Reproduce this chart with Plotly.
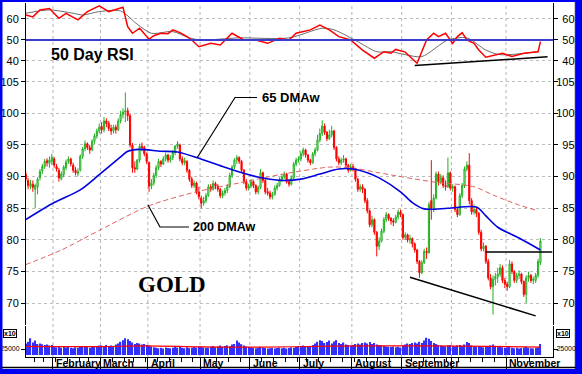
import plotly.graph_objects as go
import pandas as pd

W, H = 582, 374

# ---------------- data ----------------
HOLIDAYS = ["2008-01-21", "2008-02-18", "2008-03-21", "2008-05-26", "2008-07-04", "2008-09-01"]
dates = [d for d in pd.bdate_range("2008-01-15", "2008-11-21") if d.strftime("%Y-%m-%d") not in HOLIDAYS]

opens = [
    90.4, 89.4, 88.4, 88.8, 88.0, 88.4, 89.8, 90.9, 91.6, 92.5, 92.1, 92.4,
    92.8, 91.6, 91.0, 89.7, 90.3, 91.4, 92.4, 92.8, 91.8, 91.0, 90.5, 91.0, 93.2, 94.4, 95.2, 94.6, 94.2, 95.6, 96.4, 97.2,
    97.9, 97.4, 98.8, 98.4, 97.6, 97.2, 97.8, 97.4, 98.8, 99.8, 100.2, 100.4, 99.6, 95.0, 91.4, 91.2, 92.6, 94.8, 94.6, 93.6,
    92.2, 88.5, 89.0, 90.2, 91.4, 92.4, 92.0, 92.8, 93.4, 92.6, 93.0, 93.8, 94.8, 95.0, 92.8, 92.2, 92.4, 91.0, 89.6, 88.6, 89.0, 87.6,
    86.6, 85.8, 86.2, 87.0, 88.4, 88.0, 88.9, 88.5, 88.0, 87.0, 87.4, 87.8, 88.4, 90.2, 91.5, 92.6, 93.0, 92.4, 91.0, 89.2, 88.2,
    88.5, 89.2, 88.6, 87.6, 88.3, 90.6, 89.4, 87.6, 87.4, 86.8, 87.2, 88.2, 88.6, 89.6, 90.0, 90.4, 89.2, 88.8, 89.8, 92.0, 92.6,
    92.8, 93.6, 94.2, 93.4, 92.6, 92.2, 93.6, 94.2, 95.8, 96.8, 98.0, 97.0, 96.0, 96.6, 97.2, 94.6, 92.8, 92.2, 92.6, 92.8, 91.8, 91.0,
    91.6, 91.2, 89.6, 88.0, 88.4, 88.0, 86.2, 84.6, 82.4, 83.2, 81.2, 79.0, 79.8, 81.4, 83.2, 84.0, 83.4, 83.0, 82.8, 83.6, 84.4,
    84.0, 80.4, 80.8, 80.0, 80.2, 79.4, 78.4, 76.6, 74.8, 76.4, 78.2, 78.0, 86.2, 85.0, 86.6, 90.4, 89.2, 89.8, 88.6, 88.4, 90.6,
    88.2, 88.4, 84.8, 84.0, 87.0, 88.6, 91.2, 91.8, 86.2, 84.4, 84.8, 84.2, 81.2, 78.6, 79.0, 76.6, 74.0, 72.6, 73.8, 74.2, 74.6, 75.6, 73.6,
    73.0, 72.6, 76.2, 75.0, 73.6, 74.4, 74.6, 73.4, 71.4, 74.0, 74.4, 73.6, 73.6, 74.4, 76.4,
]
highs = [
    90.9, 89.8, 89.5, 89.4, 88.9, 89.9, 91.2, 92.0, 92.8, 92.9, 93.2, 93.6,
    93.1, 92.0, 91.4, 90.8, 91.8, 92.7, 93.2, 93.0, 92.2, 91.5, 91.3, 93.5, 94.7, 95.7, 95.4, 95.0, 95.9, 96.8, 97.6, 98.4,
    98.6, 99.4, 99.2, 98.8, 98.2, 98.2, 98.2, 99.2, 100.4, 100.8, 103.3, 100.9, 99.9, 95.3, 92.4, 92.8, 95.2, 95.4, 94.9, 93.8,
    92.4, 89.6, 90.6, 91.8, 92.8, 92.6, 93.2, 93.8, 93.6, 93.4, 94.2, 95.0, 95.6, 95.2, 93.2, 93.0, 92.6, 91.2, 90.0, 89.4, 89.2, 88.4,
    87.0, 86.8, 87.4, 88.8, 88.8, 89.4, 89.2, 88.8, 88.2, 87.8, 88.2, 88.8, 90.6, 91.8, 92.9, 93.4, 93.2, 92.6, 91.2, 89.6, 88.9,
    89.6, 89.4, 88.8, 88.6, 91.2, 90.8, 89.6, 88.2, 87.8, 87.6, 88.6, 89.0, 89.9, 90.4, 90.8, 90.6, 89.6, 90.2, 92.3, 93.0, 93.2,
    94.0, 94.6, 94.4, 93.6, 92.8, 93.9, 94.6, 96.6, 97.6, 98.9, 98.4, 97.2, 97.4, 98.0, 97.4, 94.8, 93.2, 93.0, 93.4, 93.0, 92.0, 92.0,
    92.0, 91.4, 89.8, 88.8, 88.8, 88.2, 86.6, 84.8, 83.8, 83.4, 81.4, 80.4, 81.8, 83.6, 84.4, 84.2, 83.6, 83.4, 84.0, 84.8, 84.8,
    84.2, 81.2, 81.0, 80.8, 80.4, 79.6, 78.6, 76.8, 76.8, 78.6, 78.8, 86.0, 92.6, 87.2, 90.8, 90.8, 90.4, 90.2, 89.4, 93.0, 90.8,
    88.8, 88.6, 85.2, 87.4, 89.0, 91.6, 92.4, 93.7, 86.6, 85.6, 85.2, 84.4, 81.6, 79.6, 79.2, 77.0, 74.6, 74.4, 74.8, 75.6, 76.2, 76.0, 74.0,
    73.4, 76.8, 76.6, 75.2, 74.8, 75.2, 74.8, 73.6, 74.4, 75.0, 74.6, 74.2, 74.8, 77.0, 80.3,
]
lows = [
    89.2, 88.0, 88.0, 87.6, 85.0, 87.2, 89.4, 90.4, 91.2, 91.6, 91.4, 91.8,
    91.4, 90.8, 89.2, 89.4, 89.9, 91.0, 92.0, 91.6, 90.6, 90.2, 90.0, 90.8, 92.8, 94.0, 94.2, 93.6, 94.0, 95.2, 96.0, 96.8,
    96.8, 97.0, 97.8, 97.2, 96.6, 96.8, 96.8, 97.2, 98.4, 99.2, 98.6, 98.8, 94.6, 90.6, 90.6, 91.0, 92.2, 94.0, 93.2, 92.0,
    87.6, 88.0, 88.6, 89.8, 91.0, 91.5, 91.8, 92.4, 92.2, 92.2, 92.6, 93.4, 94.4, 92.4, 91.8, 91.8, 90.6, 89.2, 88.2, 88.2, 87.2, 86.4,
    85.0, 85.4, 85.8, 86.8, 87.6, 87.8, 88.0, 87.6, 86.6, 86.6, 87.0, 87.4, 88.2, 89.8, 91.2, 92.0, 92.0, 90.6, 88.8, 87.8, 87.8,
    88.2, 88.2, 87.2, 87.2, 88.0, 89.0, 87.2, 87.0, 86.4, 86.4, 87.0, 87.8, 88.4, 89.2, 89.6, 88.9, 88.4, 88.6, 89.6, 91.6, 92.2,
    92.4, 93.2, 93.0, 92.2, 91.8, 92.0, 93.2, 94.0, 95.4, 96.4, 96.6, 95.6, 95.8, 96.2, 94.2, 92.4, 91.8, 91.8, 92.2, 91.4, 90.6, 90.8,
    90.8, 89.2, 87.6, 87.6, 87.4, 85.8, 84.2, 82.0, 82.0, 80.8, 77.4, 78.4, 79.6, 81.0, 82.8, 83.0, 82.4, 82.2, 82.6, 83.2, 83.6,
    80.0, 80.0, 79.6, 79.4, 78.8, 78.0, 76.2, 74.0, 74.6, 76.2, 77.0, 77.8, 83.2, 84.4, 86.4, 88.6, 88.8, 88.2, 87.8, 88.2, 87.8,
    87.6, 84.4, 83.6, 83.8, 86.6, 88.2, 90.8, 85.6, 84.0, 84.0, 83.6, 80.8, 78.2, 78.2, 76.2, 73.6, 72.2, 68.2, 72.8, 73.2, 74.2, 73.2, 72.4,
    72.0, 72.4, 74.6, 73.2, 73.2, 73.8, 73.0, 71.0, 70.0, 73.4, 73.2, 73.0, 73.2, 74.0, 76.0,
]
closes = [
    89.6, 88.6, 88.9, 88.3, 88.6, 89.6, 90.8, 91.6, 92.4, 92.2, 92.6, 93.0,
    91.8, 91.2, 89.8, 90.4, 91.5, 92.3, 92.8, 92.0, 91.0, 90.6, 90.8, 93.2, 94.4, 95.2, 94.6, 94.2, 95.6, 96.4, 97.2, 97.8,
    97.4, 98.8, 98.4, 97.6, 97.2, 97.8, 97.4, 98.8, 99.8, 100.2, 100.4, 99.6, 95.0, 91.4, 91.2, 92.6, 94.8, 94.6, 93.6, 92.4,
    88.5, 89.0, 90.2, 91.4, 92.4, 92.0, 92.8, 93.4, 92.6, 93.0, 93.8, 94.8, 95.2, 92.8, 92.2, 92.5, 91.0, 89.6, 88.6, 89.0, 87.5, 86.8,
    85.8, 86.2, 87.0, 88.4, 88.0, 88.9, 88.5, 88.0, 87.0, 87.4, 87.8, 88.4, 90.2, 91.5, 92.6, 93.0, 92.4, 91.0, 89.2, 88.2, 88.5,
    89.2, 88.6, 87.6, 88.3, 90.6, 89.4, 87.6, 87.4, 86.8, 87.2, 88.2, 88.6, 89.6, 90.0, 90.4, 89.2, 88.8, 89.8, 92.0, 92.6, 92.8,
    93.6, 94.2, 93.4, 92.6, 92.2, 93.6, 94.2, 95.8, 96.8, 98.0, 97.0, 96.0, 96.6, 97.2, 94.6, 92.8, 92.2, 92.6, 92.8, 91.8, 91.0, 91.6,
    91.2, 89.6, 88.0, 88.4, 88.0, 86.2, 84.6, 82.4, 83.2, 81.2, 79.0, 79.8, 81.4, 83.2, 84.0, 83.4, 83.0, 82.8, 83.6, 84.4, 84.0,
    80.4, 80.8, 80.0, 80.2, 79.4, 78.4, 76.6, 74.8, 76.4, 78.2, 78.0, 85.6, 85.0, 86.6, 90.4, 89.2, 89.8, 88.6, 88.4, 90.6, 88.2,
    88.4, 84.8, 84.0, 87.0, 88.6, 91.2, 91.8, 86.2, 84.4, 84.8, 84.2, 81.2, 78.6, 79.0, 76.6, 74.0, 72.6, 73.8, 74.2, 74.6, 75.6, 73.6, 73.0,
    72.6, 76.2, 75.0, 73.6, 74.4, 74.6, 73.4, 71.4, 74.0, 74.4, 73.6, 73.8, 74.4, 76.6, 79.8,
]
volumes = [  # thousands
    48, 55, 70, 52, 60, 46, 48, 45, 42, 44, 40, 42,
    38, 32, 35, 30, 33, 31, 34, 30, 28, 32, 30, 36, 34, 38, 33, 30, 35, 36, 38, 40,
    40, 38, 42, 36, 40, 38, 44, 48, 55, 62, 70, 66, 58, 52, 46, 50, 48, 44, 46, 42,
    40, 36, 32, 30, 28, 30, 27, 31, 29, 28, 30, 33, 31, 34, 30, 28, 32, 29, 30, 33, 31, 35,
    36, 32, 30, 31, 34, 38, 33, 36, 40, 35, 38, 41, 37, 44, 46, 60, 52, 45, 40, 36, 33,
    32, 30, 28, 30, 34, 31, 29, 27, 28, 30, 27, 29, 31, 28, 30, 27, 29, 32, 30, 34, 36,
    38, 40, 36, 34, 38, 42, 48, 55, 62, 58, 50, 54, 60, 48, 56, 62, 50, 46, 52, 44, 42, 40,
    42, 46, 48, 44, 50, 52, 48, 54, 46, 50, 44, 42, 40, 38, 36, 34, 33, 35, 32, 34, 31,
    40, 44, 48, 46, 50, 52, 48, 55, 50, 60, 72, 68, 58, 50, 46, 42, 40, 38, 36, 40, 42,
    38, 36, 40, 42, 38, 44, 54, 50, 40, 36, 34, 38, 35, 32, 34, 36, 40, 44, 38, 34, 36, 32, 30,
    32, 36, 30, 28, 30, 27, 29, 31, 34, 30, 28, 27, 29, 32, 46,
]
assert len(dates) == len(opens) == len(highs) == len(lows) == len(closes) == len(volumes)

# moving averages / indicators (trading-day index, value)
ma65_day = [0, 12, 23, 31, 40, 43, 48, 57, 64, 73, 83, 93, 101, 108, 116, 124, 132, 138, 144, 149, 158, 163, 168, 178, 190, 194, 199, 208, 217]
ma65_val = [83.2, 85.9, 87.9, 90.3, 93.1, 94.0, 94.3, 94.0, 93.9, 92.9, 91.6, 90.4, 89.7, 89.4, 89.6, 90.4, 91.2, 91.2, 90.6, 89.8, 87.6, 85.9, 84.9, 85.0, 85.2, 83.8, 82.0, 80.3, 78.4]
ma200_day = [0, 15, 31, 52, 72, 90, 107, 128, 137, 149, 171, 189, 197, 208, 216]
ma200_val = [76.1, 78.4, 81.5, 85.4, 87.6, 89.0, 90.3, 91.5, 91.4, 90.6, 89.2, 88.4, 87.1, 85.5, 84.6]

rsi_day = [0, 3, 6, 10, 14, 17, 22, 26, 31, 35, 41, 43, 45, 48, 52, 54, 57, 60, 62, 65, 68, 70, 73, 78, 82, 87, 92, 97, 102, 107,
           111, 114, 120, 124, 128, 132, 137, 142, 147, 151, 154, 156, 160, 163, 165, 169, 172, 174, 177, 180, 182, 184, 186, 189,
           191, 194, 197, 201, 205, 210, 214, 216, 217]
rsi_val = [61.9, 61.0, 64.3, 65.0, 60.3, 62.7, 59.6, 63.5, 66.2, 63.5, 65.6, 56.3, 53.2, 55.6, 50.3, 52.0, 53.2, 53.0, 54.8, 53.5,
           51.6, 50.0, 46.8, 48.4, 47.6, 53.2, 50.0, 50.0, 48.4, 50.8, 50.0, 53.2, 54.8, 57.1, 54.8, 51.6, 50.0, 45.2, 41.3, 44.4,
           43.7, 45.5, 44.2, 41.3, 38.9, 50.0, 53.2, 51.6, 53.2, 48.4, 51.6, 53.5, 50.0, 48.4, 45.2, 41.8, 42.5, 43.7, 42.1, 43.7,
           44.2, 44.4, 49.2]
rsi_ma_day = [0, 10, 20, 24, 31, 40, 47, 53, 62, 69, 74, 90, 111, 125, 130, 140, 148, 154, 160, 167, 178, 186, 194, 200, 216]
rsi_ma_val = [62.7, 64.3, 62.7, 61.9, 63.5, 63.8, 57.5, 53.2, 54.0, 51.0, 50.0, 51.0, 51.0, 55.6, 54.8, 49.2, 44.4, 44.4, 43.0,
              42.1, 50.0, 51.0, 45.2, 43.0, 44.4]
vol_ma_day = [0, 30, 50, 75, 100, 130, 150, 170, 195, 217]
vol_ma_val = [36, 35, 38, 34, 33, 37, 38, 38, 36, 33]

# hand-drawn trend lines (trading-day index, value)
price_trend_day, price_trend_val = [162, 215], [74.1, 68.0]
resist_day, resist_val = [194, 222], [78.1, 78.1]
rsi_trend_day, rsi_trend_val = [164, 220], [37.8, 42.0]

PRICE_TICKS = [70, 75, 80, 85, 90, 95, 100, 105]
RSI_TICKS = [40, 50, 60]
MONTH_NAMES = {2: "February", 3: "March", 4: "April", 5: "May", 6: "June", 7: "July",
               8: "August", 9: "September", 11: "November"}

# ---------------- helpers ----------------
def fx(p):
    return p / W


def fy(p):
    return 1 - p / H


def pad(v):
    # right-aligned labels on the right-hand axis (figure space keeps digit width)
    s = str(v)
    return "\u2007" * (3 - len(s)) + s


idx = list(range(len(dates)))
month_starts = [i for i in idx[1:] if dates[i].month != dates[i - 1].month]
week_starts = [i for i in idx[1:] if dates[i].weekday() < dates[i - 1].weekday()]

FONT = "Liberation Sans, Arial, sans-serif"
tickfont = dict(family=FONT, size=11, color="#000")

fig = go.Figure()
fig.add_trace(go.Candlestick(
    x=idx, open=opens, high=highs, low=lows, close=closes, xaxis="x", yaxis="y",
    increasing=dict(line=dict(color="#20b020", width=1), fillcolor="#c8efc8"),
    decreasing=dict(line=dict(color="#ff0000", width=1), fillcolor="#ff0000"),
    whiskerwidth=0, showlegend=False, hoverinfo="skip"))
fig.add_trace(go.Scatter(x=ma200_day, y=ma200_val, mode="lines", yaxis="y",
                         line=dict(color="#e06060", width=1, dash="5px,3px", shape="spline", smoothing=0.8),
                         hoverinfo="skip"))
fig.add_trace(go.Scatter(x=ma65_day, y=ma65_val, mode="lines", yaxis="y",
                         line=dict(color="#0000e0", width=1.6, shape="spline", smoothing=0.8),
                         hoverinfo="skip"))
fig.add_trace(go.Scatter(x=rsi_ma_day, y=rsi_ma_val, mode="lines", yaxis="y2",
                         line=dict(color="#5a5a5a", width=0.9, shape="spline", smoothing=0.8), hoverinfo="skip"))
fig.add_trace(go.Scatter(x=rsi_day, y=rsi_val, mode="lines", yaxis="y2",
                         line=dict(color="#ff0000", width=1.5), hoverinfo="skip"))
fig.add_trace(go.Bar(x=idx, y=volumes, yaxis="y3", marker=dict(color="#3030ff", line=dict(width=0)),
                     width=0.55, hoverinfo="skip"))
fig.add_trace(go.Scatter(x=vol_ma_day, y=vol_ma_val, mode="lines", yaxis="y3",
                         line=dict(color="#ff0000", width=1.2, shape="spline"), hoverinfo="skip"))
for ax in ["y4", "y5", "y6"]:
    fig.add_trace(go.Scatter(x=[None], y=[None], yaxis=ax, hoverinfo="skip", showlegend=False))

common_y = dict(anchor="x", zeroline=False, showline=True, linecolor="#000", linewidth=1,
                ticks="outside", ticklen=4, tickcolor="#000", tickfont=tickfont, fixedrange=True)
grid = dict(showgrid=True, gridcolor="#bdbdbd", griddash="dot", gridwidth=1)

price_dom = [fy(325), fy(70)]
rsi_dom = [fy(70), fy(3)]
vol_dom = [fy(357), fy(326)]
price_rng = [66.56, 106.84]
rsi_rng = [35.7, 67.6]
vol_rng = [-8.3, 121]
voltick = dict(tickvals=[25], ticktext=["25000"], tickfont=dict(family=FONT, size=7, color="#000"))

shapes = []
for m in month_starts:
    shapes.append(dict(type="line", xref="x", yref="paper", x0=m - 0.5, x1=m - 0.5, y0=fy(357), y1=fy(3),
                       line=dict(color="#b4b4b4", width=1, dash="dot"), layer="below"))
# RSI 50 line
shapes.append(dict(type="line", xref="paper", yref="y2", x0=fx(26), x1=fx(553), y0=50, y1=50,
                   line=dict(color="#3a3acc", width=2)))
# trend lines
shapes.append(dict(type="line", xref="x", yref="y", x0=price_trend_day[0], x1=price_trend_day[1],
                   y0=price_trend_val[0], y1=price_trend_val[1], line=dict(color="#000", width=1.5)))
shapes.append(dict(type="line", xref="x", yref="y", x0=resist_day[0], x1=resist_day[1],
                   y0=resist_val[0], y1=resist_val[1], line=dict(color="#000", width=1.5)))
shapes.append(dict(type="line", xref="x", yref="y2", x0=rsi_trend_day[0], x1=rsi_trend_day[1],
                   y0=rsi_trend_val[0], y1=rsi_trend_val[1], line=dict(color="#000", width=1.5)))


def ppath(pts):
    return "M " + " L ".join(f"{fx(a):.5f},{fy(b):.5f}" for a, b in pts)


shapes.append(dict(type="path", xref="paper", yref="paper", path=ppath([(197, 158), (235, 97.5), (257, 97.5)]),
                   line=dict(color="#000", width=1.2)))
shapes.append(dict(type="path", xref="paper", yref="paper", path=ppath([(148, 205), (160, 227), (189, 227)]),
                   line=dict(color="#000", width=1.2)))
# frame
BLUE = "#0000f0"
for (a, b, c, d) in [(0, 0, 2.5, H), (0, 0, W, 2), (576, 0, W, H), (0, 369, W, H)]:
    shapes.append(dict(type="rect", xref="paper", yref="paper", x0=fx(a), x1=fx(c), y0=fy(b), y1=fy(d),
                       fillcolor=BLUE, line=dict(width=0)))
shapes.append(dict(type="line", xref="paper", yref="paper", x0=fx(2), x1=fx(576), y0=fy(367.5), y1=fy(367.5),
                   line=dict(color="#000", width=1.5)))
shapes.append(dict(type="line", xref="paper", yref="paper", x0=fx(575.3), x1=fx(575.3), y0=fy(2), y1=fy(369),
                   line=dict(color="#000", width=1)))

annotations = []
for m in month_starts:
    name = MONTH_NAMES.get(dates[m].month)
    if name:
        annotations.append(dict(text=f"<b>{name}</b>", xref="x", yref="paper", x=m - 0.5, y=fy(363),
                                xanchor="left", yanchor="middle", xshift=1, showarrow=False,
                                font=dict(family=FONT, size=10.5, color="#000")))
annotations += [
    dict(text="<b>50 Day RSI</b>", xref="paper", yref="paper", x=fx(49), y=fy(54), xanchor="left",
         yanchor="middle", showarrow=False, font=dict(family=FONT, size=16, color="#000")),
    dict(text="<b>GOLD</b>", xref="paper", yref="paper", x=fx(136), y=fy(284), xanchor="left",
         yanchor="middle", showarrow=False, font=dict(family="Liberation Serif, Times New Roman, serif", size=23, color="#000")),
    dict(text="<b>65 DMAw</b>", xref="paper", yref="paper", x=fx(260), y=fy(98), xanchor="left",
         yanchor="middle", showarrow=False, font=dict(family=FONT, size=13, color="#000")),
    dict(text="<b>200 DMAw</b>", xref="paper", yref="paper", x=fx(191), y=fy(227), xanchor="left",
         yanchor="middle", showarrow=False, font=dict(family=FONT, size=12.5, color="#000")),
]
for xpos in [3, 556]:
    annotations.append(dict(text="<b>x10</b>", xref="paper", yref="paper", x=fx(xpos), y=fy(333), xanchor="left",
                            yanchor="middle", showarrow=False, bordercolor="#000", borderwidth=1, borderpad=0,
                            bgcolor="white", font=dict(family=FONT, size=7, color="#000")))

fig.update_layout(
    width=W, height=H, margin=dict(l=0, r=0, t=0, b=0),
    paper_bgcolor="white", plot_bgcolor="white", showlegend=False, bargap=0.4,
    xaxis=dict(domain=[fx(26), fx(553)], range=[0.12, 222.3], anchor="y3", showgrid=False, zeroline=False,
               tickmode="array", tickvals=[m - 0.5 for m in month_starts], showticklabels=False,
               ticks="outside", ticklen=11, tickcolor="#000", tickwidth=1,
               showline=True, linecolor="#000", linewidth=1,
               minor=dict(tickmode="array", tickvals=[w - 0.5 for w in week_starts], ticks="outside",
                          ticklen=4, tickcolor="#000"),
               rangeslider=dict(visible=False), fixedrange=True),
    yaxis=dict(domain=price_dom, range=price_rng, side="left", tickvals=PRICE_TICKS, **grid, **common_y),
    yaxis2=dict(domain=rsi_dom, range=rsi_rng, side="left", tickvals=RSI_TICKS, **grid, **common_y),
    yaxis3=dict(domain=vol_dom, range=vol_rng, side="left", showgrid=False, **voltick,
                **{k: v for k, v in common_y.items() if k != "tickfont"}),
    yaxis4=dict(domain=price_dom, range=price_rng, side="right", overlaying="y", tickvals=PRICE_TICKS,
                ticktext=[pad(v) for v in PRICE_TICKS], showgrid=False, ticklabelstandoff=-4, **common_y),
    yaxis5=dict(domain=rsi_dom, range=rsi_rng, side="right", overlaying="y2", tickvals=RSI_TICKS,
                ticktext=[pad(v) for v in RSI_TICKS], showgrid=False, ticklabelstandoff=-4, **common_y),
    yaxis6=dict(domain=vol_dom, range=vol_rng, side="right", overlaying="y3", showgrid=False, **voltick,
                ticklabelstandoff=-3, **{k: v for k, v in common_y.items() if k != "tickfont"}),
    shapes=shapes, annotations=annotations,
)

fig.write_html("out.html", config={"displayModeBar": False},
               post_script="document.body.style.margin='0';document.body.style.overflow='hidden';")
